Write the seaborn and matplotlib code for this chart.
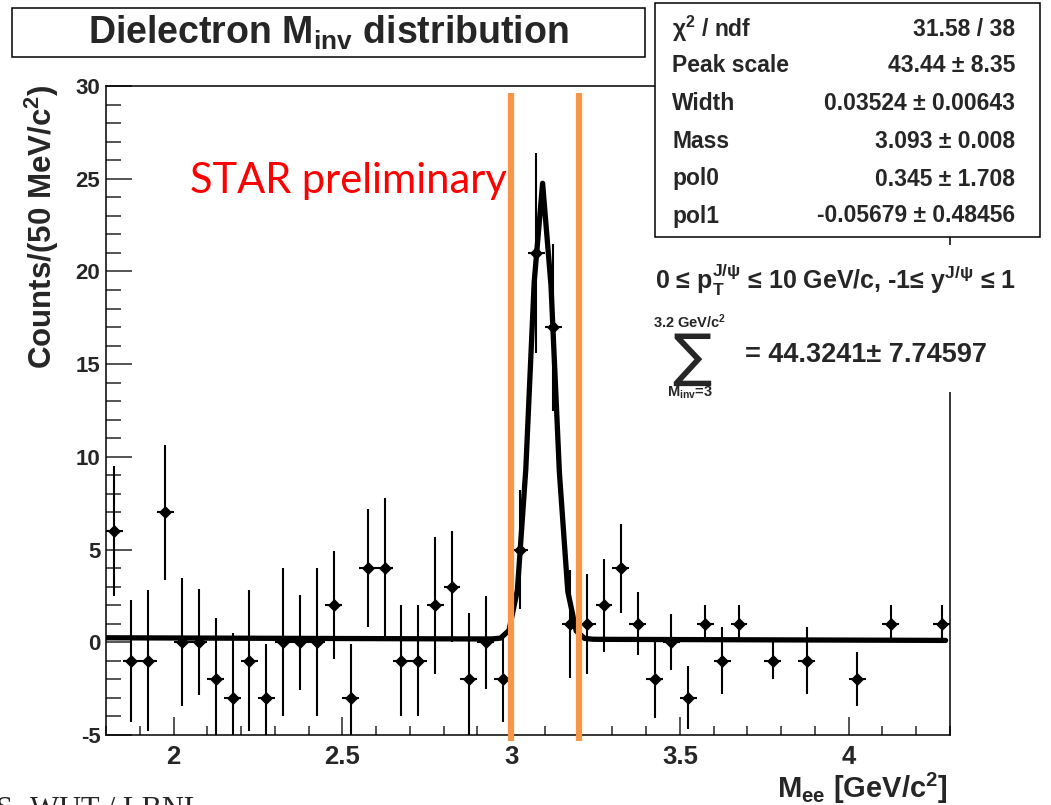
import numpy as np
import pandas as pd
import matplotlib
matplotlib.use("Agg")
import matplotlib.pyplot as plt
import matplotlib.transforms as mtransforms
from matplotlib.patches import Rectangle
from matplotlib.ticker import MultipleLocator, FixedLocator
import seaborn as sns

# ---------------- data ----------------
mass = [1.825, 1.875, 1.925, 1.975, 2.025, 2.075, 2.125, 2.175, 2.225, 2.275,
        2.325, 2.375, 2.425, 2.475, 2.525, 2.575, 2.625, 2.675, 2.725, 2.775,
        2.825, 2.875, 2.925, 2.975, 3.025, 3.075, 3.125, 3.175, 3.225, 3.275,
        3.325, 3.375, 3.425, 3.475, 3.525, 3.575, 3.625, 3.675,
        3.775, 3.875, 4.025, 4.125, 4.275]
counts = [6, -1, -1, 7, 0, 0, -2, -3, -1, -3,
          0, 0, 0, 2, -3, 4, 4, -1, -1, 2,
          3, -2, 0, -2, 5, 21, 17, 1, 1, 2,
          4, 1, -2, 0, -3, 1, -1, 1,
          -1, -1, -2, 1, 1]
errors = [3.5, 3.3, 3.8, 3.65, 3.45, 2.85, 3.3, 3.5, 3.8, 2.9,
          4.0, 2.55, 4.0, 2.9, 2.9, 3.2, 3.8, 3.0, 3.0, 3.7,
          3.0, 3.6, 2.5, 2.3, 3.2, 5.4, 4.5, 2.9, 2.7, 2.5,
          2.4, 1.7, 2.1, 1.5, 1.7, 1.0, 1.8, 1.0,
          1.0, 1.8, 1.45, 1.0, 1.0]
BIN_WIDTH = 0.05

# fit parameters (Gaussian + pol1), as printed in the stats box
PEAK_SCALE = 43.44
WIDTH = 0.03524
MASS = 3.093
POL0 = 0.345
POL1 = -0.05679
FIT_RANGE = (1.8, 4.287)
FIT_NPX = 100

stat_names = ["$\\chi^{2}$ / ndf", "Peak scale", "Width", "Mass", "pol0", "pol1"]
stat_values = ["31.58 / 38", "43.44 \u00b1 8.35", "0.03524 \u00b1 0.00643",
               "3.093 \u00b1 0.008", "0.345 \u00b1 1.708", "-0.05679 \u00b1 0.48456"]

x_ticks = [2.0, 2.5, 3.0, 3.5, 4.0]
x_ticklabels = ["2", "2.5", "3", "3.5", "4"]
y_ticks = [-5, 0, 5, 10, 15, 20, 25, 30]
y_ticklabels = ["-5", "0", "5", "10", "15", "20", "25", "30"]
window = [3.0, 3.2]

# ---------------- style ----------------
sns.set_theme(style="ticks")
plt.rcParams.update({
    "font.family": ["Liberation Sans", "DejaVu Sans"],
    "font.weight": "bold",
    "mathtext.fontset": "custom",
    "mathtext.rm": "Liberation Sans:bold",
    "mathtext.it": "Liberation Sans:bold",
    "mathtext.bf": "Liberation Sans:bold",
    "mathtext.sf": "Liberation Sans:bold",
    "mathtext.default": "rm",
    "axes.linewidth": 1.1,
})

W, H = 1051, 805
fig = plt.figure(figsize=(W / 100, H / 100), dpi=100)
fig.patch.set_facecolor("white")

def fx(px):
    return px / W

def fy(py):
    return 1 - py / H

ax_l, ax_r, ax_t, ax_b = 106, 950, 86, 735
ax = fig.add_axes([fx(ax_l), fy(ax_b), fx(ax_r - ax_l), (ax_b - ax_t) / H])
ax.set_facecolor("white")

# fit curve
xf = np.linspace(FIT_RANGE[0], FIT_RANGE[1], FIT_NPX + 1)
amp = PEAK_SCALE * BIN_WIDTH / (np.sqrt(2 * np.pi) * WIDTH)
yf = amp * np.exp(-0.5 * ((xf - MASS) / WIDTH) ** 2) + POL0 + POL1 * xf
fit_df = pd.DataFrame({"m": xf, "f": yf})
sns.lineplot(data=fit_df, x="m", y="f", ax=ax, color="black", linewidth=3.8,
             estimator=None, sort=False, zorder=3)

# data points with errors
df = pd.DataFrame({"m": mass, "c": counts, "e": errors})
ax.errorbar(df["m"], df["c"], yerr=df["e"], xerr=BIN_WIDTH / 2, fmt="none",
            ecolor="black", elinewidth=1.5, capsize=0, zorder=4)
sns.scatterplot(data=df, x="m", y="c", ax=ax, marker="D", s=38, color="black",
                edgecolor="black", linewidth=0.5, zorder=5)

ax.set_xlim(1.8, 4.3)
ax.set_ylim(-5, 30)
ax.set_xlabel("")
ax.set_ylabel("")

ax.xaxis.set_major_locator(FixedLocator(x_ticks))
ax.set_xticklabels(x_ticklabels)
ax.xaxis.set_minor_locator(MultipleLocator(0.1))
ax.yaxis.set_major_locator(FixedLocator(y_ticks))
ax.set_yticklabels(y_ticklabels)
ax.yaxis.set_minor_locator(MultipleLocator(1))
ax.tick_params(axis="x", which="major", direction="in", length=13, width=1.1,
               labelsize=18.5, pad=7, top=False)
ax.tick_params(axis="x", which="minor", direction="in", length=6.5, width=1.1, top=False)
ax.tick_params(axis="y", which="major", direction="in", length=19, width=1.1,
               labelsize=16, pad=4, right=False)
ax.tick_params(axis="y", which="minor", direction="in", length=10.5, width=1.1, right=False)
for lab in ax.get_xticklabels() + ax.get_yticklabels():
    lab.set_fontweight("bold")
for s in ax.spines.values():
    s.set_visible(True)
    s.set_color("black")
    s.set_linewidth(1.1)

# orange window lines (slide annotation)
trans = mtransforms.blended_transform_factory(ax.transData, fig.transFigure)
for xv in window:
    ax.plot([xv, xv], [fy(93), fy(741)], transform=trans, color="#F79646",
            linewidth=4.5, clip_on=False, zorder=6, solid_capstyle="butt")

# STAR preliminary
fig.text(fx(190), fy(193), "STAR preliminary", color="red", fontsize=30,
         fontweight="normal", family=["Lato", "DejaVu Sans"], ha="left", va="baseline")

# axis titles
fig.text(fx(42), fy(84), "Counts/(50 MeV/c$^{2}$)", rotation=90, ha="center", va="top",
         fontsize=22.5, fontweight="bold")
fig.text(fx(948), fy(788), "M$_{ee}$ [GeV/c$^{2}$]", ha="right", va="center",
         fontsize=21, fontweight="bold")

# title box
fig.patches.append(Rectangle((fx(12), fy(57)), fx(633), 49 / H, transform=fig.transFigure,
                             facecolor="white", edgecolor="black", linewidth=1.1, zorder=7))
fig.text(fx(328), fy(33), "Dielectron M$_{inv}$ distribution", ha="center", va="center",
         fontsize=27, fontweight="bold", zorder=8)

# stats box
fig.patches.append(Rectangle((fx(655), fy(237)), fx(385), 234 / H, transform=fig.transFigure,
                             facecolor="white", edgecolor="black", linewidth=1.1, zorder=7))
row_y = [29, 65, 103, 141, 179, 216]
for name, val, yy in zip(stat_names, stat_values, row_y):
    fig.text(fx(672), fy(yy), name, ha="left", va="center", fontsize=16.5,
             fontweight="bold", zorder=8)
    fig.text(fx(1015), fy(yy), val, ha="right", va="center", fontsize=16.5,
             fontweight="bold", zorder=8)

# white pave behind the kinematic text
fig.patches.append(Rectangle((fx(640), fy(392)), fx(405), 147 / H, transform=fig.transFigure,
                             facecolor="white", edgecolor="none", zorder=7))
fig.text(fx(655), fy(280), "0 \u2264 p$_{T}^{J/\\psi}$ \u2264 10 GeV/c, -1\u2264 y$^{J/\\psi}$ \u2264 1",
         ha="left", va="center", fontsize=18, fontweight="bold", zorder=8)
fig.text(fx(690), fy(322), "3.2 GeV/c$^{2}$", ha="center", va="center", fontsize=10.5,
         fontweight="bold", zorder=8)
fig.text(fx(692), fy(358), "\u2211", ha="center", va="center", fontsize=42,
         fontweight="normal", family=["DejaVu Sans"], zorder=8)
fig.text(fx(690), fy(393), "M$_{inv}$=3", ha="center", va="center", fontsize=10.5,
         fontweight="bold", zorder=8)
fig.text(fx(745), fy(355), "= 44.3241\u00b1 7.74597", ha="left", va="center", fontsize=19.5,
         fontweight="bold", zorder=8)

# slide footer fragments
fig.text(fx(30), fy(818), "WUT / LBNL", ha="left", va="baseline", fontsize=22,
         fontweight="normal", family=["Liberation Serif"])
fig.text(fx(-4), fy(818), "S", ha="left", va="baseline", fontsize=22,
         fontweight="normal", family=["Liberation Serif"])
fig.text(fx(1003), fy(826), "9", ha="left", va="baseline", fontsize=22,
         fontweight="normal", family=["Liberation Serif"], color="#555555")

fig.savefig("out.png", dpi=100)
